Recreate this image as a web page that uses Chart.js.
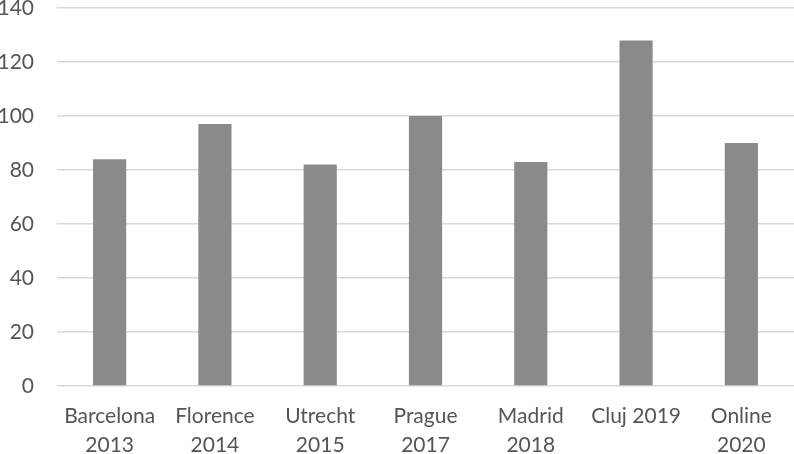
<!DOCTYPE html>
<html>
<head>
<meta charset="utf-8">
<script src="https://cdn.jsdelivr.net/npm/chart.js@4/dist/chart.umd.min.js"></script>
<style>
  html, body { margin: 0; padding: 0; background: #fff; }
  #wrap { width: 794px; height: 454px; }
</style>
</head>
<body>
<div id="wrap"><canvas id="canvas" width="794" height="454"></canvas></div>
<script>
const labels = [
  ["Barcelona", "2013"],
  ["Florence", "2014"],
  ["Utrecht", "2015"],
  ["Prague", "2017"],
  ["Madrid", "2018"],
  "Cluj 2019",
  ["Online", "2020"]
];
const values = [84, 97, 82, 100, 83, 128, 90];
const yMin = 0;
const yMax = 140;
const yStep = 20;

const ctx = document.getElementById("canvas").getContext("2d");
const textColor = "#555555";
const font = { family: "Lato, 'Open Sans', sans-serif", size: 21, lineHeight: 1.38 };

new Chart(ctx, {
  type: "bar",
  data: {
    labels: labels,
    datasets: [{
      data: values,
      backgroundColor: "#898b8b",
      borderWidth: 0,
      categoryPercentage: 1,
      barPercentage: 0.315
    }]
  },
  options: {
    responsive: false,
    animation: false,
    layout: { padding: { top: 8, right: 0, left: 0, bottom: 0 } },
    plugins: { legend: { display: false }, tooltip: { enabled: false } },
    scales: {
      x: {
        grid: { display: false, drawTicks: false },
        border: { display: false },
        ticks: { color: textColor, font: font, padding: 16, maxRotation: 0, autoSkip: false },
        afterFit: (s) => { s.height = 68; s.paddingLeft = 0; s.paddingRight = 0; }
      },
      y: {
        min: yMin,
        max: yMax,
        grid: { color: "#d9d9d9", lineWidth: 1.5, drawTicks: false },
        border: { display: false },
        ticks: { stepSize: yStep, color: textColor, font: { family: font.family, size: 21 }, padding: 23 },
        afterFit: (s) => { s.width = 57; s.paddingTop = 0; s.paddingBottom = 0; }
      }
    }
  }
});
</script>
</body>
</html>
